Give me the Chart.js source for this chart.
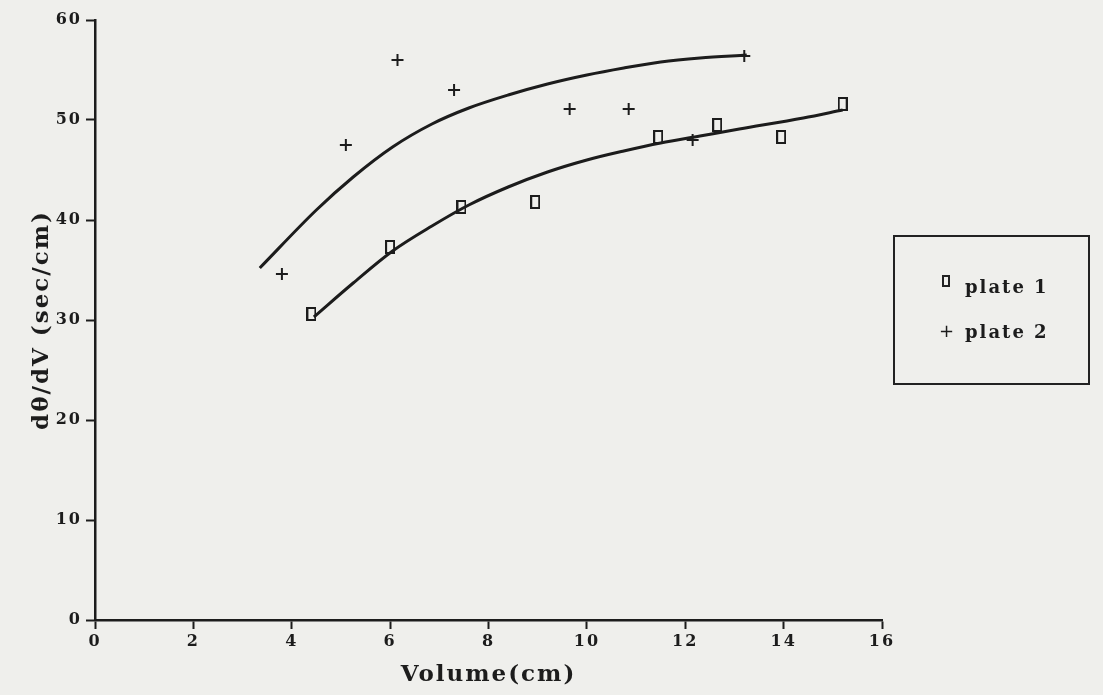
<!DOCTYPE html>
<html>
<head>
<meta charset="utf-8">
<script src="https://cdn.jsdelivr.net/npm/chart.js@4"></script>
<style>
  html, body { margin: 0; padding: 0; background: #efefec; }
  #wrap { position: relative; width: 1103px; height: 695px; }
  #legend {
    position: absolute; left: 893px; top: 235px; width: 193px; height: 146px;
    border: 2px solid #222; color: #1c1c1c;
    font: bold 18px "DejaVu Serif"; letter-spacing: 2px;
  }
  .lbl { position: absolute; left: 70px; line-height: 20px; white-space: nowrap; }
  .sq { position: absolute; left: 47px; width: 4px; height: 8px; border: 2px solid #222; }
  .pl { position: absolute; left: 44px; font: 18px "DejaVu Sans"; line-height: 20px; }
</style>
</head>
<body>
<div id="wrap">
  <canvas id="chart" width="1103" height="695"></canvas>
  <div id="legend"></div>
</div>
<script>
/* データ */
const seriesNames = ["plate 1", "plate 2"];
const xTicks = [0, 2, 4, 6, 8, 10, 12, 14, 16];
const yTicks = [0, 10, 20, 30, 40, 50, 60];

const plate1X = [4.4, 6.0, 7.45, 8.95, 11.45, 12.65, 13.95, 15.2];
const plate1Y = [30.6, 37.3, 41.3, 41.8, 48.3, 49.5, 48.3, 51.6];

const plate2X = [3.8, 5.1, 6.15, 7.3, 9.65, 10.85, 12.15, 13.2];
const plate2Y = [34.6, 47.5, 56.0, 53.0, 51.1, 51.1, 48.0, 56.4];

// fitted curves
const fit1X = [4.45, 5.25, 6.05, 6.85, 7.6, 8.4, 9.2, 10.0, 10.75, 11.5, 12.3, 13.1, 14.4, 15.2];
const fit1Y = [30.3, 33.7, 36.9, 39.4, 41.5, 43.3, 44.8, 46.0, 46.9, 47.7, 48.4, 49.1, 50.2, 51.0];

const fit2X = [3.35, 4.5, 5.25, 6.05, 6.85, 7.6, 8.4, 9.2, 10.0, 10.75, 11.5, 12.3, 13.25];
const fit2Y = [35.2, 41.0, 44.3, 47.3, 49.6, 51.2, 52.5, 53.6, 54.5, 55.2, 55.8, 56.2, 56.5];

const ink = "#1c1c1c";
const fontFamily = "'DejaVu Serif', serif";

/* 点の形 (縦長の四角) */
function makeRect() {
  const c = document.createElement("canvas");
  c.width = 10;
  c.height = 14;
  const g = c.getContext("2d");
  g.strokeStyle = ink;
  g.lineWidth = 2;
  g.strokeRect(1, 1, 8, 12);
  return c;
}

function pairs(xs, ys) {
  return xs.map((x, i) => ({ x: x, y: ys[i] }));
}

/* 凡例 */
function renderLegend() {
  const box = document.getElementById("legend");
  box.innerHTML = `
    <span class="sq" style="top:38px"></span>
    <span class="lbl" style="top:40px">${seriesNames[0]}</span>
    <span class="pl" style="top:84px">+</span>
    <span class="lbl" style="top:85px">${seriesNames[1]}</span>
  `;
}

const spacing = {
  id: "spacing",
  beforeDraw(c) { c.ctx.letterSpacing = "2px"; }
};

function curve(label, xs, ys) {
  return {
    label: label,
    data: pairs(xs, ys),
    showLine: true,
    pointRadius: 0,
    borderWidth: 3,
    borderColor: ink,
    cubicInterpolationMode: "monotone"
  };
}

function drawChart() {
  const ctx = document.getElementById("chart");

  new Chart(ctx, {
    type: "scatter",
    data: {
      datasets: [
        {
          label: seriesNames[0],
          data: pairs(plate1X, plate1Y),
          pointStyle: makeRect(),
          pointRadius: 6,
          showLine: false
        },
        {
          label: seriesNames[1],
          data: pairs(plate2X, plate2Y),
          pointStyle: "cross",
          pointRadius: 6,
          borderWidth: 2,
          borderColor: ink,
          showLine: false
        },
        curve("fit 1", fit1X, fit1Y),
        curve("fit 2", fit2X, fit2Y)
      ]
    },
    options: {
      responsive: false,
      animation: false,
      layout: { padding: { left: 0, right: 221, top: 20, bottom: 0 } },
      plugins: { legend: { display: false }, tooltip: { enabled: false } },
      scales: {
        x: {
          min: xTicks[0],
          max: xTicks[xTicks.length - 1],
          afterFit(s) { s.height = 75; },
          ticks: {
            stepSize: 2,
            color: ink,
            padding: 3,
            font: { family: fontFamily, weight: "bold", size: 16 }
          },
          grid: { drawOnChartArea: false, tickLength: 9, tickWidth: 2, tickColor: ink },
          border: { color: ink, width: 2.5 },
          title: {
            display: true,
            text: "Volume(cm)",
            color: ink,
            padding: { top: 0, bottom: 6 },
            font: { family: fontFamily, weight: "bold", size: 23 }
          }
        },
        y: {
          min: yTicks[0],
          max: yTicks[yTicks.length - 1],
          afterFit(s) { s.width = 95; },
          ticks: {
            stepSize: 10,
            color: ink,
            padding: 4,
            font: { family: fontFamily, weight: "bold", size: 16 }
          },
          grid: { drawOnChartArea: false, tickLength: 9, tickWidth: 2, tickColor: ink },
          border: { color: ink, width: 2.5 },
          title: {
            display: true,
            text: "dθ/dV (sec/cm)",
            color: ink,
            padding: { top: 28, bottom: 0 },
            font: { family: fontFamily, weight: "bold", size: 23 }
          }
        }
      }
    },
    plugins: [spacing]
  });
}

renderLegend();
drawChart();
</script>
</body>
</html>
